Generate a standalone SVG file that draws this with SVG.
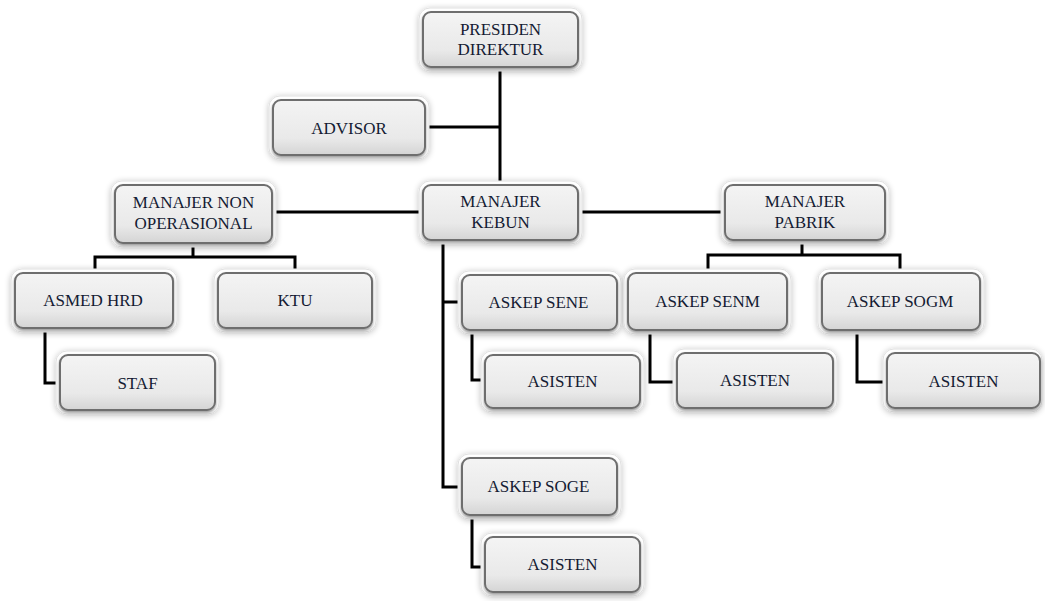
<svg xmlns="http://www.w3.org/2000/svg" width="1045" height="601" viewBox="0 0 1045 601">
<style>
.halo{fill:#fff;stroke:#e0e0e0;stroke-width:1;filter:url(#glow)}
.box{fill:url(#grad);stroke:#6e6e6e;stroke-width:2;filter:url(#inner)}
.t{font-family:'Liberation Serif','Times New Roman',serif;font-size:17px;fill:#141b33;text-anchor:middle}
.c{fill:none;stroke:#000;stroke-width:3;stroke-linejoin:miter}
</style>
<defs>
<linearGradient id="grad" x1="0" y1="0" x2="0" y2="1">
<stop offset="0" stop-color="#f4f4f4"/>
<stop offset="0.7" stop-color="#e9e9e9"/>
<stop offset="1" stop-color="#d4d4d4"/>
</linearGradient>
<filter id="glow" x="-20%" y="-30%" width="140%" height="160%">
<feGaussianBlur in="SourceAlpha" stdDeviation="3"/>
<feOffset dx="0" dy="1" result="b"/>
<feComponentTransfer><feFuncA type="linear" slope="0.25"/></feComponentTransfer>
<feMerge><feMergeNode/><feMergeNode in="SourceGraphic"/></feMerge>
</filter>
<filter id="inner" x="-10%" y="-20%" width="120%" height="140%">
<feGaussianBlur in="SourceAlpha" stdDeviation="1.5"/>
<feOffset dx="0" dy="2"/>
<feComponentTransfer><feFuncA type="linear" slope="0.4"/></feComponentTransfer>
<feMerge><feMergeNode/><feMergeNode in="SourceGraphic"/></feMerge>
</filter>
</defs>
<rect width="1045" height="601" fill="#fff"/>
<g id="connectors">
<path class="c" d="M500 67 V185"/>
<path class="c" d="M425 127 H500"/>
<path class="c" d="M272 212 H725"/>
<path class="c" d="M193 243 V257 M95 273 V257 H295 V273"/>
<path class="c" d="M45 328 V383 H60"/>
<path class="c" d="M443 240 V487 H462 M443 302 H462"/>
<path class="c" d="M472 330 V380 H485"/>
<path class="c" d="M472 515 V567 H485"/>
<path class="c" d="M802 240 V255 M708 273 V255 H900 V273"/>
<path class="c" d="M650 330 V382 H677"/>
<path class="c" d="M857 330 V382 H887"/>
</g>
<g id="presiden">
<rect class="halo" x="419" y="8" width="163" height="63" rx="11"/>
<rect class="box" x="423" y="12" width="155" height="55" rx="8"/>
<text class="t" x="500.5" y="35">PRESIDEN</text>
<text class="t" x="500.5" y="55">DIREKTUR</text>
</g>
<g id="advisor">
<rect class="halo" x="269" y="96" width="160" height="63" rx="11"/>
<rect class="box" x="273" y="100" width="152" height="55" rx="8"/>
<text class="t" x="349" y="134">ADVISOR</text>
</g>
<g id="manajer-non-operasional">
<rect class="halo" x="111" y="181" width="165" height="66" rx="11"/>
<rect class="box" x="115" y="185" width="157" height="58" rx="8"/>
<text class="t" x="193.5" y="208">MANAJER NON</text>
<text class="t" x="193.5" y="229">OPERASIONAL</text>
</g>
<g id="manajer-kebun">
<rect class="halo" x="419" y="181" width="163" height="63" rx="11"/>
<rect class="box" x="423" y="185" width="155" height="55" rx="8"/>
<text class="t" x="500.5" y="207">MANAJER</text>
<text class="t" x="500.5" y="228">KEBUN</text>
</g>
<g id="manajer-pabrik">
<rect class="halo" x="721" y="181" width="168" height="63" rx="11"/>
<rect class="box" x="725" y="185" width="160" height="55" rx="8"/>
<text class="t" x="805" y="207">MANAJER</text>
<text class="t" x="805" y="228">PABRIK</text>
</g>
<g id="asmed-hrd">
<rect class="halo" x="11" y="269" width="166" height="63" rx="11"/>
<rect class="box" x="15" y="273" width="158" height="55" rx="8"/>
<text class="t" x="93" y="306">ASMED HRD</text>
</g>
<g id="ktu">
<rect class="halo" x="214" y="269" width="162" height="63" rx="11"/>
<rect class="box" x="218" y="273" width="154" height="55" rx="8"/>
<text class="t" x="295" y="306">KTU</text>
</g>
<g id="staf">
<rect class="halo" x="56" y="351" width="163" height="63" rx="11"/>
<rect class="box" x="60" y="355" width="155" height="55" rx="8"/>
<text class="t" x="137.5" y="389">STAF</text>
</g>
<g id="askep-sene">
<rect class="halo" x="458" y="271" width="163" height="63" rx="11"/>
<rect class="box" x="462" y="275" width="155" height="55" rx="8"/>
<text class="t" x="538.5" y="308">ASKEP SENE</text>
</g>
<g id="asisten-sene">
<rect class="halo" x="481" y="351" width="163" height="61" rx="11"/>
<rect class="box" x="485" y="355" width="155" height="53" rx="8"/>
<text class="t" x="562.5" y="387">ASISTEN</text>
</g>
<g id="askep-senm">
<rect class="halo" x="624" y="269" width="167" height="65" rx="11"/>
<rect class="box" x="628" y="273" width="159" height="57" rx="8"/>
<text class="t" x="707.5" y="307">ASKEP SENM</text>
</g>
<g id="asisten-senm">
<rect class="halo" x="673" y="349" width="164" height="63" rx="11"/>
<rect class="box" x="677" y="353" width="156" height="55" rx="8"/>
<text class="t" x="755" y="386">ASISTEN</text>
</g>
<g id="askep-sogm">
<rect class="halo" x="818" y="269" width="166" height="65" rx="11"/>
<rect class="box" x="822" y="273" width="158" height="57" rx="8"/>
<text class="t" x="900" y="307">ASKEP SOGM</text>
</g>
<g id="asisten-sogm">
<rect class="halo" x="883" y="349" width="159" height="63" rx="11"/>
<rect class="box" x="887" y="353" width="153" height="55" rx="8"/>
<text class="t" x="963.5" y="387">ASISTEN</text>
</g>
<g id="askep-soge">
<rect class="halo" x="458" y="454" width="163" height="65" rx="11"/>
<rect class="box" x="462" y="458" width="155" height="57" rx="8"/>
<text class="t" x="538.5" y="492">ASKEP SOGE</text>
</g>
<g id="asisten-soge">
<rect class="halo" x="481" y="533" width="163" height="63" rx="11"/>
<rect class="box" x="485" y="537" width="155" height="55" rx="8"/>
<text class="t" x="562.5" y="570">ASISTEN</text>
</g>
</svg>
